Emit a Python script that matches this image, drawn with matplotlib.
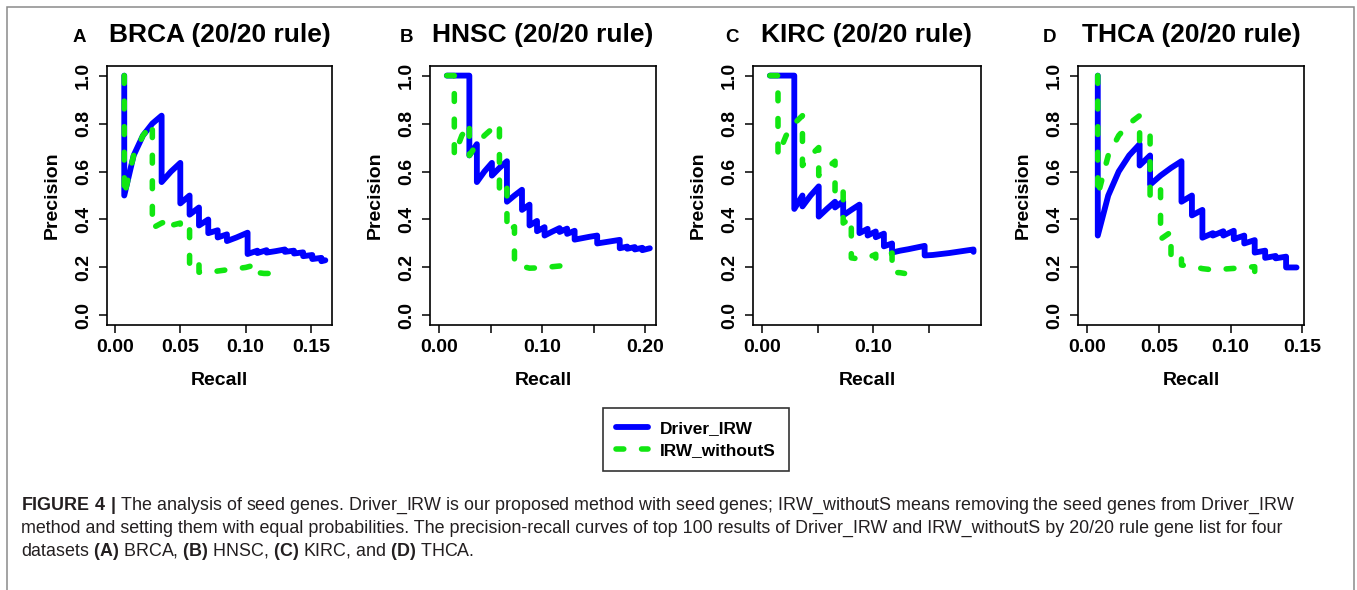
import matplotlib
matplotlib.use('Agg')
import matplotlib.pyplot as plt
from matplotlib.lines import Line2D
from matplotlib.patches import Rectangle

plt.rcParams['font.family'] = 'Liberation Sans'
plt.rcParams['font.weight'] = 'bold'
plt.rcParams['mathtext.fontset'] = 'custom'
plt.rcParams['mathtext.rm'] = 'Liberation Sans'
plt.rcParams['mathtext.bf'] = 'Liberation Sans:bold'

# ---- data (recall, precision) ----
brca_drv_x = [0.0071, 0.0071, 0.0143, 0.0214, 0.0286, 0.0357, 0.0357, 0.0429, 0.05, 0.05, 0.0571, 0.0571,
              0.0643, 0.0643, 0.0714, 0.0714, 0.0786, 0.0786, 0.0857, 0.0857, 0.093, 0.1015, 0.1015, 0.109,
              0.109, 0.116, 0.116, 0.123, 0.130, 0.130, 0.137, 0.137, 0.144, 0.144, 0.151, 0.151, 0.158,
              0.158, 0.161]
brca_drv_y = [1.0, 0.5, 0.667, 0.75, 0.8, 0.833, 0.556, 0.6, 0.636, 0.467, 0.5, 0.42,
              0.45, 0.375, 0.40, 0.343, 0.355, 0.325, 0.338, 0.31, 0.325, 0.345, 0.256, 0.27,
              0.26, 0.272, 0.262, 0.268, 0.275, 0.265, 0.27, 0.258, 0.263, 0.247, 0.252, 0.235, 0.24,
              0.226, 0.23]
brca_wos_x = [0.0071, 0.0071, 0.0143, 0.0214, 0.0286, 0.0286, 0.0357, 0.0429, 0.0429, 0.05, 0.05, 0.0571,
              0.0571, 0.0643, 0.0643, 0.0714, 0.0786, 0.0857, 0.093, 0.1, 0.107, 0.107, 0.114, 0.121]
brca_wos_y = [1.0, 0.5, 0.667, 0.75, 0.8, 0.364, 0.385, 0.40, 0.375, 0.385, 0.36, 0.37,
              0.2, 0.222, 0.18, 0.178, 0.185, 0.19, 0.195, 0.2, 0.21, 0.18, 0.175, 0.175]

hnsc_drv_x = [0.0073, 0.0292, 0.0292, 0.0365, 0.0365, 0.0438, 0.0511, 0.0511, 0.0584, 0.0657, 0.0657,
              0.073, 0.0803, 0.0803, 0.0876, 0.0876, 0.0949, 0.0949, 0.1022, 0.1022, 0.1095, 0.1168,
              0.1168, 0.1241, 0.1241, 0.1314, 0.1314, 0.1387, 0.146, 0.1533, 0.1533, 0.1606, 0.1679,
              0.1752, 0.1752, 0.1825, 0.1825, 0.1898, 0.1898, 0.1971, 0.1971, 0.2044]
hnsc_drv_y = [1.0, 1.0, 0.667, 0.714, 0.556, 0.6, 0.636, 0.583, 0.615, 0.643, 0.474,
              0.5, 0.524, 0.44, 0.462, 0.375, 0.394, 0.351, 0.368, 0.333, 0.349, 0.364,
              0.348, 0.362, 0.34, 0.353, 0.316, 0.322, 0.328, 0.333, 0.30, 0.305, 0.31,
              0.315, 0.28, 0.287, 0.278, 0.285, 0.275, 0.282, 0.272, 0.28]
hnsc_wos_x = [0.0073, 0.0146, 0.0146, 0.0219, 0.0292, 0.0292, 0.0365, 0.0438, 0.0511, 0.0584, 0.0584,
              0.0657, 0.0657, 0.073, 0.073, 0.0803, 0.0876, 0.0949, 0.1022, 0.1095, 0.1168, 0.1241]
hnsc_wos_y = [1.0, 1.0, 0.667, 0.75, 0.8, 0.667, 0.714, 0.75, 0.778, 0.8, 0.5,
              0.53, 0.35, 0.37, 0.215, 0.205, 0.197, 0.198, 0.2, 0.203, 0.206, 0.21]

kirc_drv_x = [0.0073, 0.0292, 0.0292, 0.0365, 0.0365, 0.0438, 0.0511, 0.0511, 0.0584, 0.0657, 0.0657,
              0.073, 0.073, 0.0803, 0.0876, 0.0876, 0.0949, 0.0949, 0.1022, 0.1022, 0.1095, 0.1095,
              0.1168, 0.1168, 0.1241, 0.1314, 0.1387, 0.146, 0.146, 0.1533, 0.1606, 0.1679, 0.1752,
              0.1825, 0.1898, 0.1898]
kirc_drv_y = [1.0, 1.0, 0.444, 0.5, 0.4545, 0.5, 0.538, 0.412, 0.444, 0.474, 0.45,
              0.476, 0.417, 0.44, 0.462, 0.343, 0.361, 0.333, 0.35, 0.326, 0.341, 0.288,
              0.30, 0.262, 0.27, 0.276, 0.283, 0.29, 0.25, 0.252, 0.256, 0.26, 0.265,
              0.27, 0.275, 0.265]
kirc_wos_x = [0.0073, 0.0146, 0.0146, 0.0219, 0.0292, 0.0365, 0.0365, 0.0438, 0.0511, 0.0511, 0.0584,
              0.0657, 0.0657, 0.073, 0.073, 0.0803, 0.0803, 0.0876, 0.0949, 0.1022, 0.1022, 0.1095,
              0.1168, 0.1168, 0.1241, 0.128]
kirc_wos_y = [1.0, 1.0, 0.667, 0.75, 0.8, 0.833, 0.625, 0.667, 0.7, 0.583, 0.615,
              0.643, 0.5, 0.526, 0.385, 0.407, 0.24, 0.235, 0.24, 0.255, 0.235, 0.25,
              0.26, 0.18, 0.178, 0.175]

thca_drv_x = [0.0073, 0.0073, 0.0146, 0.0219, 0.0292, 0.0365, 0.0365, 0.0438, 0.0438, 0.0511, 0.0584,
              0.0657, 0.0657, 0.073, 0.073, 0.0803, 0.0803, 0.0876, 0.0876, 0.0949, 0.0949, 0.1022,
              0.1022, 0.1095, 0.1095, 0.1168, 0.1168, 0.1241, 0.1241, 0.1314, 0.1314, 0.1387, 0.1387,
              0.146]
thca_drv_y = [1.0, 0.333, 0.5, 0.6, 0.667, 0.714, 0.625, 0.667, 0.545, 0.583, 0.615,
              0.643, 0.474, 0.5, 0.417, 0.44, 0.324, 0.343, 0.333, 0.351, 0.333, 0.353,
              0.318, 0.333, 0.30, 0.314, 0.262, 0.27, 0.24, 0.248, 0.238, 0.245, 0.2,
              0.2]
thca_wos_x = [0.0073, 0.0073, 0.0146, 0.0219, 0.0292, 0.0365, 0.0365, 0.0438, 0.0438, 0.0511, 0.0511,
              0.0584, 0.0584, 0.0657, 0.0657, 0.073, 0.0803, 0.0876, 0.0949, 0.1022, 0.1095, 0.1168,
              0.1168]
thca_wos_y = [1.0, 0.5, 0.667, 0.75, 0.8, 0.833, 0.714, 0.75, 0.5, 0.538, 0.318,
              0.348, 0.24, 0.25, 0.21, 0.205, 0.195, 0.19, 0.193, 0.196, 0.2, 0.203,
              0.17]

titles = ['BRCA (20/20 rule)', 'HNSC (20/20 rule)', 'KIRC (20/20 rule)', 'THCA (20/20 rule)']
letters = ['A', 'B', 'C', 'D']
series_names = ['Driver_IRW', 'IRW_withoutS']
y_ticks = [0.0, 0.2, 0.4, 0.6, 0.8, 1.0]
y_ticklabels = ['0.0', '0.2', '0.4', '0.6', '0.8', '1.0']
x_ticks = [[0, 0.05, 0.10, 0.15], [0, 0.05, 0.10, 0.15, 0.20], [0, 0.05, 0.10, 0.15], [0, 0.05, 0.10, 0.15]]
x_ticklabels = [['0.00', '0.05', '0.10', '0.15'], ['0.00', '', '0.10', '', '0.20'],
                ['0.00', '', '0.10', ''], ['0.00', '0.05', '0.10', '0.15']]

curves = [(brca_drv_x, brca_drv_y, brca_wos_x, brca_wos_y),
          (hnsc_drv_x, hnsc_drv_y, hnsc_wos_x, hnsc_wos_y),
          (kirc_drv_x, kirc_drv_y, kirc_wos_x, kirc_wos_y),
          (thca_drv_x, thca_drv_y, thca_wos_x, thca_wos_y)]

# layout in pixels of the reference (left, right), shared top/bottom
W, H = 1357, 590
ax_lr = [(107, 332), (430, 656), (753, 981), (1078, 1304)]
ax_top, ax_bot = 66, 325
xlims = [(-0.0061, 0.1661), (-0.009, 0.2104), (-0.0078, 0.1965), (-0.0065, 0.1512)]
letter_x = [73, 400, 725, 1043]

blue = '#0000ff'
green = '#11e611'
dash = (0, (1.4, 3.2))

fig = plt.figure(figsize=(W / 100, H / 100), dpi=100)

for i in range(4):
    l, r = ax_lr[i]
    ax = fig.add_axes([l / W, 1 - ax_bot / H, (r - l) / W, (ax_bot - ax_top) / H])
    dx, dy, gx, gy = curves[i]
    ax.plot(dx, dy, color=blue, lw=4.2, solid_capstyle='round', solid_joinstyle='round', zorder=2)
    ax.plot(gx, gy, color=green, lw=4.0, ls=dash, dash_capstyle='round', dash_joinstyle='round', zorder=3)
    ax.set_xlim(xlims[i])
    ax.set_ylim(-0.04, 1.04)
    ax.set_xticks(x_ticks[i])
    ax.set_xticklabels(x_ticklabels[i])
    ax.set_yticks(y_ticks)
    ax.set_yticklabels(y_ticklabels, rotation=90, va='center')
    ax.tick_params(direction='out', length=5.8, width=1.1, labelsize=14, colors='black')
    ax.tick_params(axis='x', pad=4)
    ax.tick_params(axis='y', pad=5)
    for s in ax.spines.values():
        s.set_linewidth(1.2)
    ax.set_xlabel('Recall', fontsize=14, fontweight='bold')
    ax.set_ylabel('Precision', fontsize=14, fontweight='bold')
    ax.xaxis.set_label_coords(0.5, -0.18)
    ax.yaxis.set_label_coords(-0.205, 0.5)
    ax.text(0.5, 1 + (ax_top - 42) / (ax_bot - ax_top), titles[i], transform=ax.transAxes,
            ha='center', va='baseline', fontsize=19, fontweight='bold')
    fig.text(letter_x[i] / W, 1 - 42 / H, letters[i], fontsize=13.5, fontweight='bold', va='baseline')

# legend under the panels
handles = [Line2D([], [], color=blue, lw=4.2, solid_capstyle='round'),
           Line2D([], [], color=green, lw=4.0, ls=dash, dash_capstyle='round')]
leg = fig.legend(handles, series_names, loc='center', bbox_to_anchor=(696 / W, 1 - 439.5 / H),
                 fontsize=12.4, frameon=True, fancybox=False, edgecolor='black', borderpad=0.75,
                 handlelength=1.85, handletextpad=0.7, labelspacing=0.38, borderaxespad=0)
leg.get_frame().set_linewidth(1.2)

# figure caption
cap_lines = [r'$\bf{FIGURE\ 4\ |}$ The analysis of seed genes. Driver_IRW is our proposed method with seed genes; '
             r'IRW_withoutS means removing the seed genes from Driver_IRW',
             'method and setting them with equal probabilities. The precision-recall curves of top 100 results of '
             'Driver_IRW and IRW_withoutS by 20/20 rule gene list for four',
             r'datasets $\bf{(A)}$ BRCA, $\bf{(B)}$ HNSC, $\bf{(C)}$ KIRC, and $\bf{(D)}$ THCA.']
cap_base = [510, 533, 556]
cap_texts = []
for line, yb in zip(cap_lines, cap_base):
    t = fig.text(21 / W, 1 - yb / H, line, fontsize=12.5, fontweight='normal', color='#231f20', va='baseline')
    cap_texts.append(t)

# fit first caption line to the reference width
rend = fig.canvas.get_renderer()
w1 = cap_texts[0].get_window_extent(renderer=rend).width
for t in cap_texts:
    t.set_fontsize(12.5 * 1272 / w1)

# thin grey frame around the figure (bottom edge is cut off)
fig.patches.append(Rectangle((7 / W, 1 - 600 / H), (1354 - 7) / W, (600 - 7) / H, transform=fig.transFigure,
                             fill=False, edgecolor='#8a8a8a', lw=1.1))

fig.savefig('out.png', dpi=100)
